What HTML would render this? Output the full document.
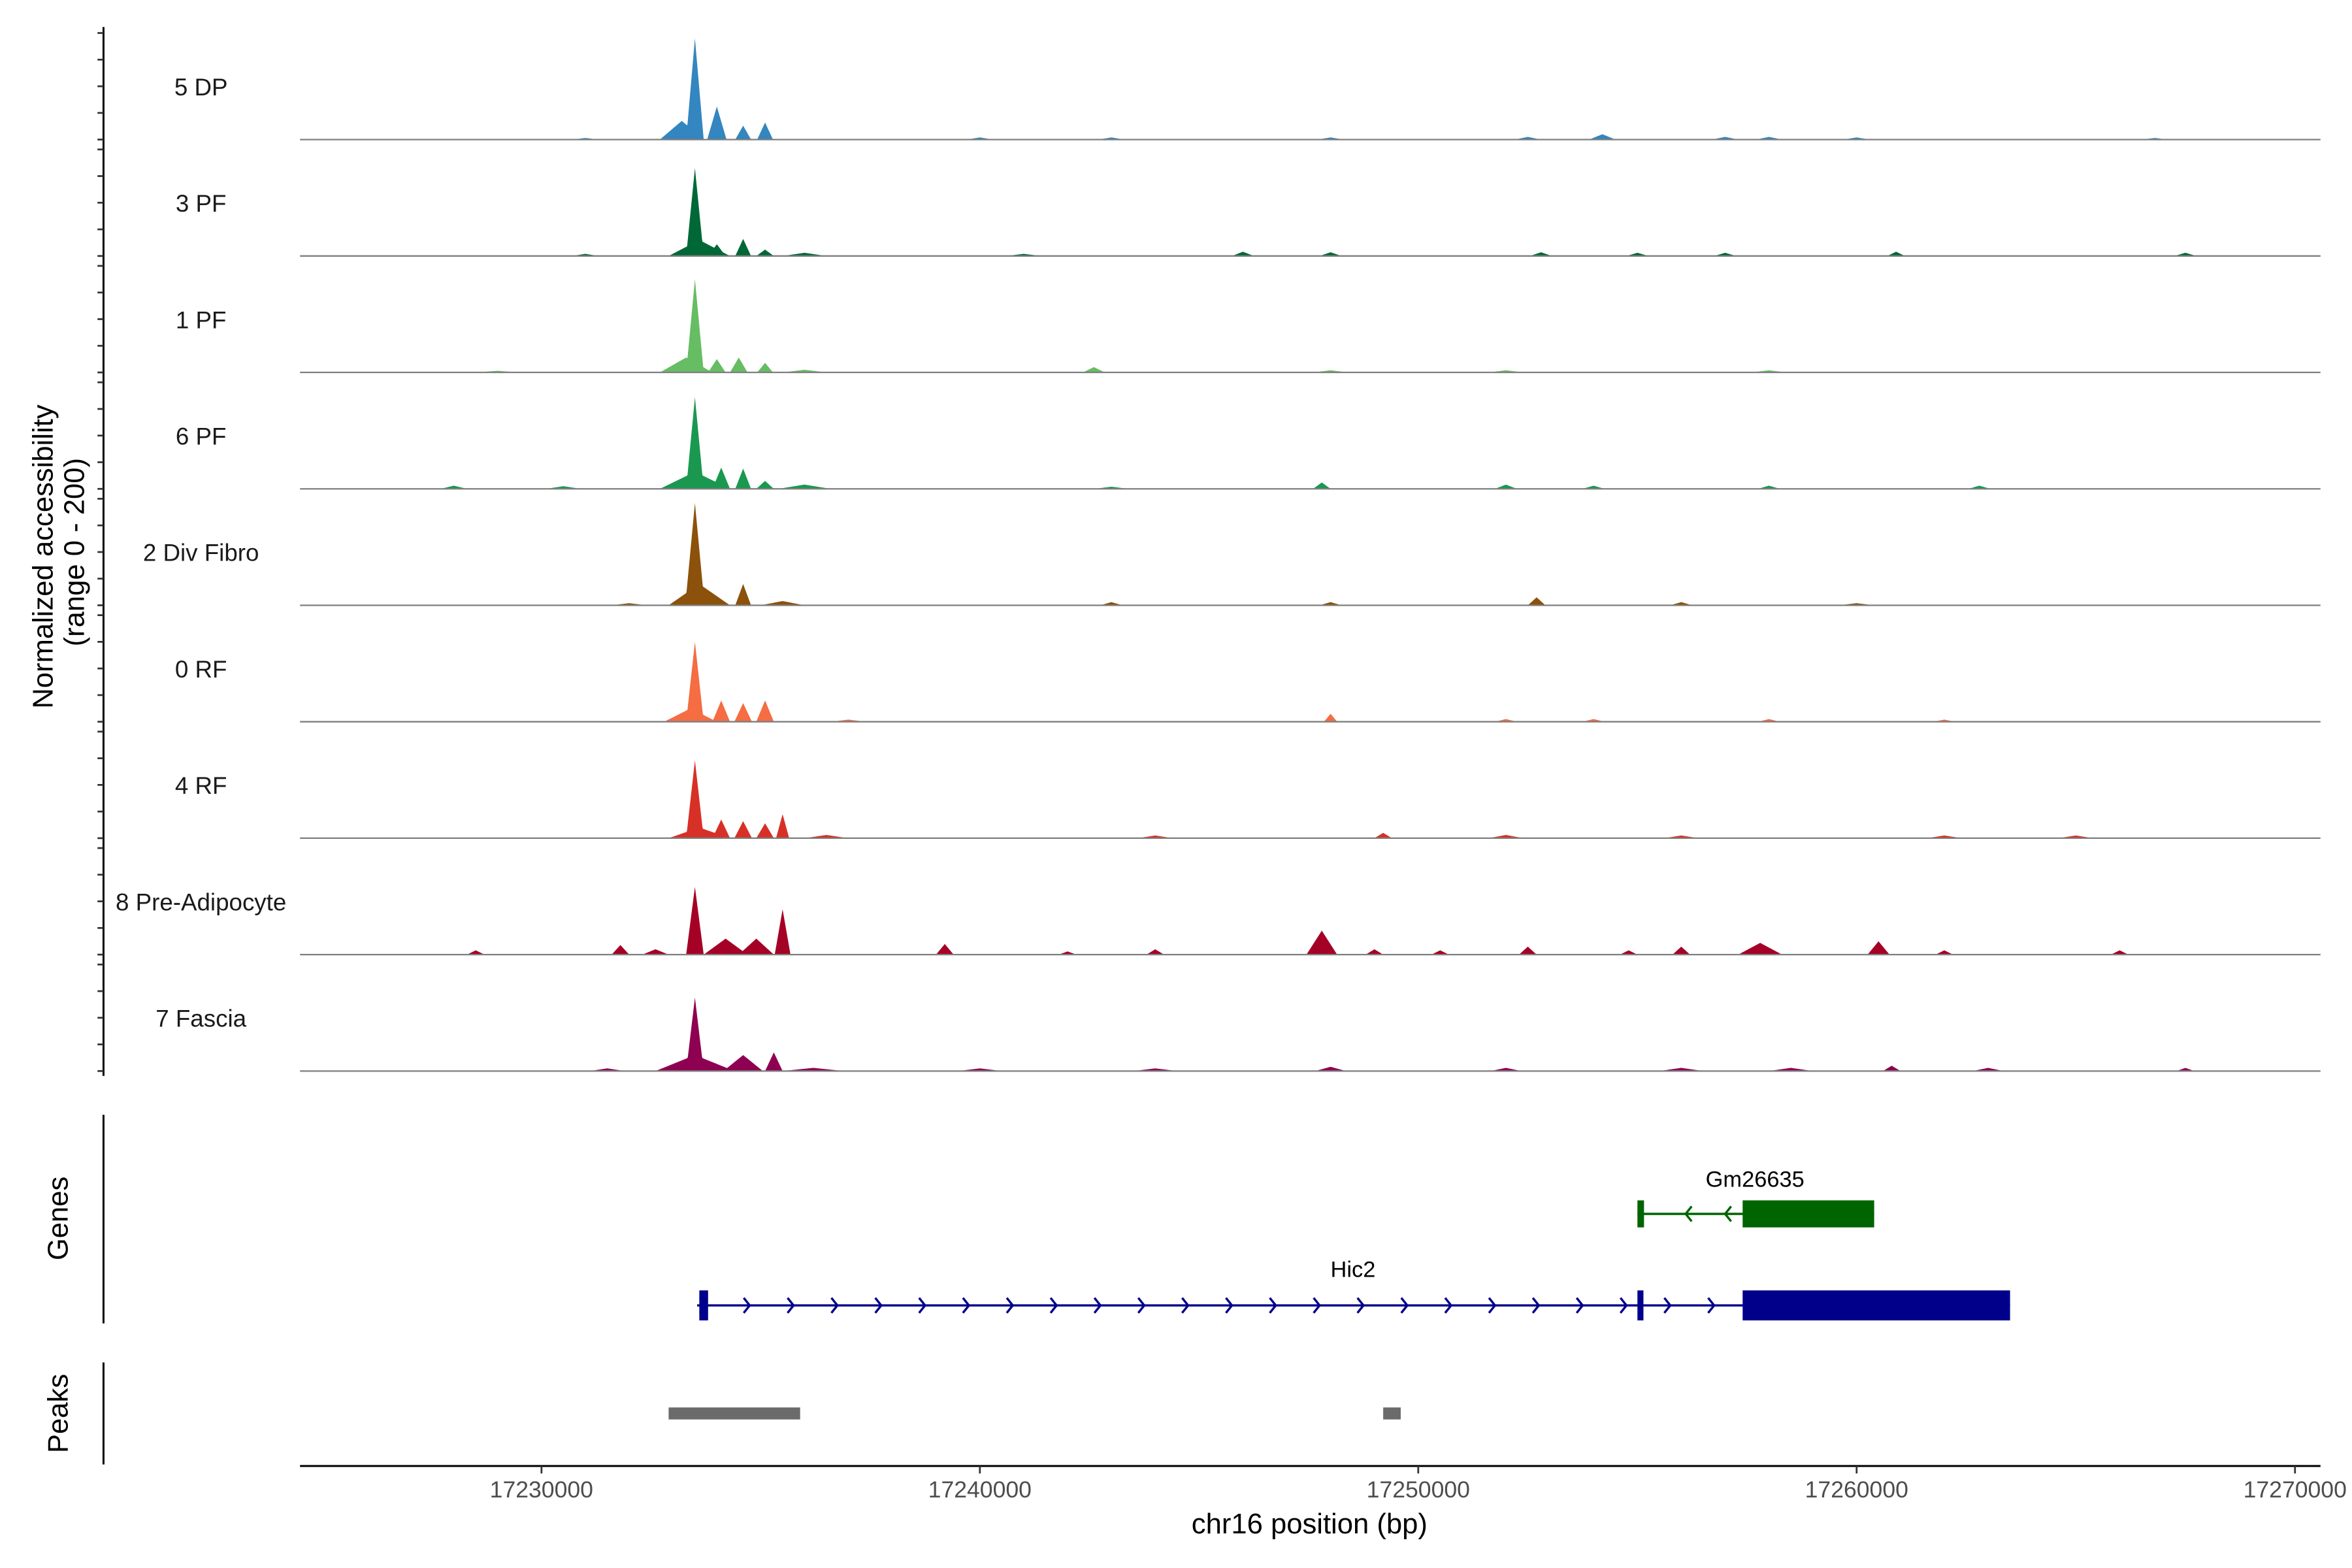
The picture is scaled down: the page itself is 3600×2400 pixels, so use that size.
<!DOCTYPE html>
<html><head><meta charset="utf-8"><style>
html,body{margin:0;padding:0;background:#fff;}
svg{display:block;font-family:"Liberation Sans",sans-serif;}
</style></head><body>
<svg id="chart" width="3600" height="2400" viewBox="0 0 1568 1045" preserveAspectRatio="none" xmlns="http://www.w3.org/2000/svg">
<rect x="0" y="0" width="1568" height="1045" fill="#fff"/>
<g id="tracks"></g>
<g id="yaxis"></g>
<text transform="translate(35,371) rotate(-90)" text-anchor="middle" font-size="19" fill="#000">Normalized accessibility</text>
<text transform="translate(56,368) rotate(-90)" text-anchor="middle" font-size="19" fill="#000">(range 0 - 200)</text>
<line x1="69" y1="743" x2="69" y2="882" stroke="#000" stroke-width="1.3"/>
<text transform="translate(45,812) rotate(-90)" text-anchor="middle" font-size="19">Genes</text>
<line x1="69" y1="908" x2="69" y2="976" stroke="#000" stroke-width="1.3"/>
<text transform="translate(45,942) rotate(-90)" text-anchor="middle" font-size="19">Peaks</text>
<g id="genes"></g>
<g id="peaks"></g>
<g id="xaxis"></g>
<text x="873" y="1022" text-anchor="middle" font-size="19">chr16 position (bp)</text>
</svg>
<script>
const NS="http://www.w3.org/2000/svg";
const trackNames=["5 DP","3 PF","1 PF","6 PF","2 Div Fibro","0 RF","4 RF","8 Pre-Adipocyte","7 Fascia"];
const trackColors=["#3386BF","#006837","#66BD63","#1A9850","#8C510A","#F46D43","#D73027","#A50026","#8E0152"];
// peaks per track: [position kb, value (0-200), half-width kb]
const peaks5DP=[[17233.5,190,0.2],[17233.2,35,0.5],[17234.0,62,0.22],[17234.6,26,0.18],[17235.1,32,0.18],[17254.2,10,0.3],[17240,4,0.3],[17243,4,0.3],[17248,4,0.3],[17252.5,5,0.3],[17257,5,0.3],[17258,5,0.3],[17260,4,0.3],[17266.8,3,0.3],[17231,3,0.3]];
const peaks3PF=[[17233.5,165,0.2],[17233.6,30,0.7],[17234.0,22,0.2],[17234.6,32,0.18],[17235.1,12,0.2],[17236,6,0.5],[17246,8,0.25],[17248,7,0.25],[17252.8,7,0.25],[17255,6,0.25],[17257,6,0.25],[17260.9,8,0.2],[17267.5,6,0.25],[17241,4,0.4],[17231,4,0.3]];
const peaks1PF=[[17233.5,175,0.2],[17233.3,28,0.6],[17234.0,25,0.2],[17234.5,28,0.2],[17235.1,18,0.18],[17242.6,10,0.25],[17236,5,0.5],[17248,4,0.4],[17252,4,0.4],[17258,4,0.4],[17229,3,0.5]];
const peaks6PF=[[17233.5,172,0.2],[17233.5,32,0.8],[17234.1,40,0.2],[17234.6,38,0.18],[17235.1,15,0.2],[17236,8,0.6],[17247.8,12,0.2],[17252,8,0.25],[17254,6,0.25],[17258,6,0.25],[17262.8,6,0.25],[17228,6,0.3],[17230.5,5,0.4],[17243,4,0.4]];
const peaksDiv=[[17233.5,192,0.22],[17233.6,40,0.7],[17234.6,40,0.18],[17235.5,8,0.5],[17252.7,15,0.2],[17243,6,0.25],[17248,6,0.25],[17256,6,0.25],[17232,4,0.4],[17260,4,0.4]];
const peaks0RF=[[17233.5,150,0.2],[17233.4,25,0.6],[17234.1,40,0.2],[17234.6,35,0.2],[17235.1,40,0.2],[17248,15,0.15],[17252,5,0.25],[17254,5,0.25],[17258,5,0.25],[17262,4,0.25],[17237,4,0.4]];
const peaks4RF=[[17233.5,146,0.2],[17233.6,20,0.7],[17234.1,35,0.2],[17234.6,32,0.2],[17235.1,28,0.2],[17235.5,45,0.15],[17249.2,10,0.2],[17236.5,6,0.5],[17244,5,0.4],[17252,6,0.4],[17256,5,0.4],[17262,5,0.4],[17265,5,0.4]];
const peaksPA=[[17233.5,127,0.2],[17235.5,85,0.18],[17234.2,30,0.5],[17234.9,30,0.4],[17247.8,45,0.35],[17239.2,20,0.2],[17231.8,18,0.2],[17232.6,10,0.3],[17228.5,8,0.2],[17252.5,15,0.2],[17257.8,22,0.5],[17260.5,25,0.25],[17256,15,0.2],[17244,10,0.2],[17249,10,0.2],[17262,8,0.2],[17266,8,0.2],[17242,6,0.2],[17254.8,8,0.2],[17250.5,8,0.2]];
const peaksFas=[[17233.5,138,0.2],[17233.5,30,0.9],[17234.6,30,0.45],[17235.3,35,0.2],[17236.2,6,0.7],[17260.8,10,0.2],[17248,8,0.35],[17252,6,0.35],[17256,6,0.5],[17258.5,6,0.5],[17263,6,0.35],[17267.5,6,0.2],[17231.5,5,0.4],[17240,5,0.5],[17244,5,0.5]];
const trackPeaks=[peaks5DP,peaks3PF,peaks1PF,peaks6PF,peaksDiv,peaks0RF,peaks4RF,peaksPA,peaksFas];
const yTicks=[0,50,100,150,200];
const xTicks=[17230000,17240000,17250000,17260000,17270000];
const covStart=17226.5, covEnd=17268.3;
// genes
const gmExons=[[17255.0,17255.15],[17257.4,17260.4]];
const gmSpan=[17255.0,17260.4];
const gmArrows=[17256.1,17257.0];
const hicSpan=[17233.55,17263.5];
const hicExons=[[17233.6,17233.8],[17255.0,17255.1],[17257.4,17263.5]];
const peakRegions=[[17232.9,17235.9],[17249.2,17249.6]];

const X=kb=>361+(kb-17230)*29.225;
const trackTop=18, trackStep=77.6, trackH=71;
function el(tag,attrs,parent){const e=document.createElementNS(NS,tag);for(const k in attrs)e.setAttribute(k,attrs[k]);parent.appendChild(e);return e;}

const gT=document.getElementById('tracks');
const gY=document.getElementById('yaxis');
const axisLine=el('line',{x1:69,y1:18,x2:69,y2:717,stroke:'#000','stroke-width':1.3},gY);


trackNames.forEach((name,i)=>{
  const base=trackTop+trackH+i*trackStep+4;
  const Y=v=>base-v/200*trackH;
  const g=el('g',{},gT);
  
  
  const lab=el('text',{x:134,y:Y(100)+6,'text-anchor':'middle','font-size':16,fill:'#1a1a1a'},g);
  lab.textContent=name;
  
  
  let d='M'+X(covStart)+','+base;
  const pk=trackPeaks[i];
  for(let p=covStart;p<=covEnd;p+=0.01){
    let v=0;
    for(const [c,h,w] of pk){const t=1-Math.abs(p-c)/w;if(t>0)v=Math.max(v,h*t);}
    d+='L'+X(p).toFixed(2)+','+Y(v).toFixed(2);
  }
  d+='L'+X(covEnd)+','+base+'Z';
  const area=el('path',{d:d,fill:trackColors[i]},g);
  
  
  const bl=el('line',{x1:200,y1:base,x2:1547,y2:base,stroke:'#7f7f7f','stroke-width':1},g);
  
  
  yTicks.forEach(t=>{
    const tk=el('line',{x1:65,y1:Y(t),x2:69,y2:Y(t),stroke:'#333','stroke-width':1.2},gY);
    
    
  });
});

const gG=document.getElementById('genes');
function gene(span,exons,arrows,y,h,color,name,lx,ly,dir){
  const g=el('g',{},gG);
  
  
  el('line',{x1:X(span[0]),y1:y,x2:X(span[1]),y2:y,stroke:color,'stroke-width':1.5},g);
  arrows.forEach(a=>{const x=X(a);el('polyline',{points:(x-4*dir)+','+(y-5)+' '+x+','+y+' '+(x-4*dir)+','+(y+5),fill:'none',stroke:color,'stroke-width':1.5},g);});
  exons.forEach(([s,e])=>{const w=Math.max(X(e)-X(s),4);el('rect',{x:X(s),y:y-h/2,width:w,height:h,fill:color},g);});
  const t=el('text',{x:lx,y:ly,'text-anchor':'middle','font-size':15},g);t.textContent=name;
  
  
}
gene(gmSpan,gmExons,gmArrows,809,18,'#006400','Gm26635',1170,791,-1);
const hicArrows=[];for(let k=17233.6;k<17258;k+=1.0)hicArrows.push(k+0.15);
gene(hicSpan,hicExons,hicArrows,870,20,'#00008B','Hic2',902,851,1);

const gP=document.getElementById('peaks');
peakRegions.forEach(([s,e])=>{
  const r=el('rect',{x:X(s),y:938,width:X(e)-X(s),height:8,fill:'#6b6b6b'},gP);
  
  
});

const gX=document.getElementById('xaxis');
const xl=el('line',{x1:200,y1:977,x2:1547,y2:977,stroke:'#000','stroke-width':1.3},gX);


xTicks.forEach(t=>{
  const x=X(t/1000);
  const tk=el('line',{x1:x,y1:977,x2:x,y2:982,stroke:'#333','stroke-width':1.2},gX);
  
  
  const tl=el('text',{x:x,y:998,'text-anchor':'middle','font-size':15.5,fill:'#4d4d4d'},gX);
  tl.textContent=t;
  
  
});
</script>
</body></html>
